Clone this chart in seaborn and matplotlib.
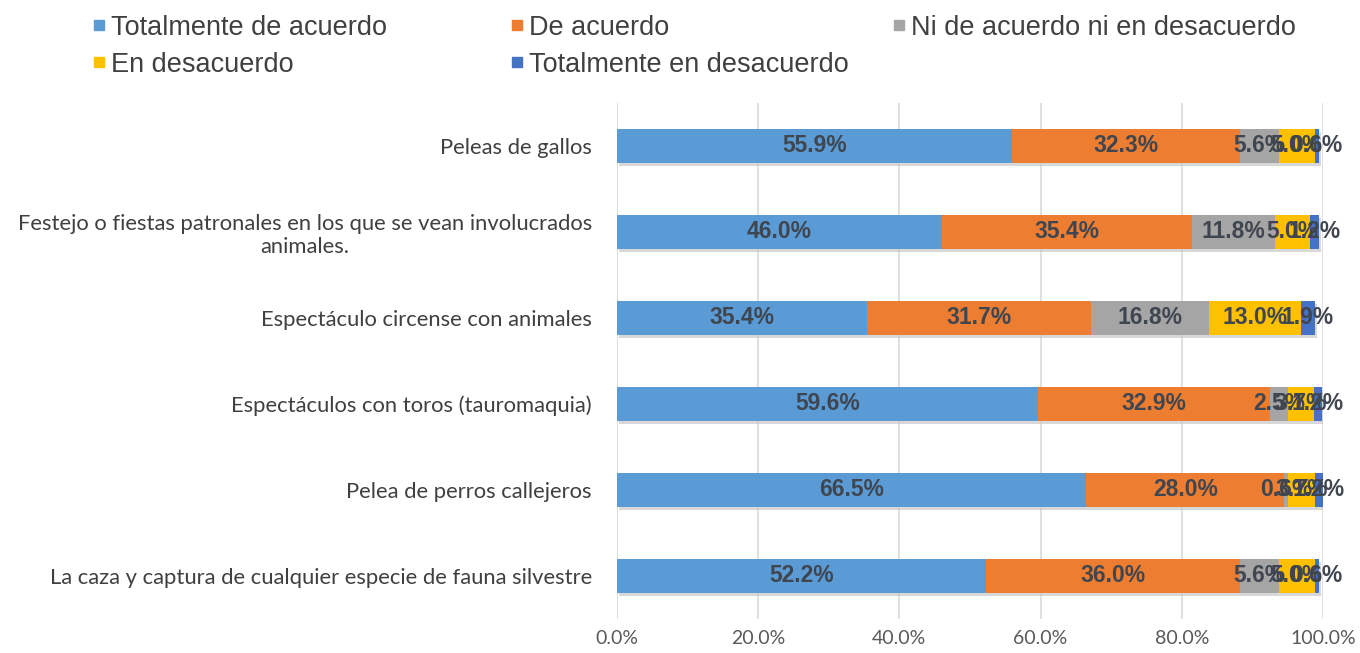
import matplotlib
matplotlib.use("Agg")
import matplotlib.pyplot as plt
import matplotlib.patheffects as pe
from matplotlib.lines import Line2D
import seaborn as sns
import pandas as pd
import numpy as np

categories = [
    "Peleas de gallos",
    "Festejo o fiestas patronales en los que se vean involucrados\nanimales.",
    "Espectáculo circense con animales",
    "Espectáculos con toros (tauromaquia)",
    "Pelea de perros callejeros",
    "La caza y captura de cualquier especie de fauna silvestre",
]
series_names = [
    "Totalmente de acuerdo",
    "De acuerdo",
    "Ni de acuerdo ni en desacuerdo",
    "En desacuerdo",
    "Totalmente en desacuerdo",
]
totalmente_de_acuerdo = [55.9, 46.0, 35.4, 59.6, 66.5, 52.2]
de_acuerdo = [32.3, 35.4, 31.7, 32.9, 28.0, 36.0]
ni_ni = [5.6, 11.8, 16.8, 2.5, 0.6, 5.6]
en_desacuerdo = [5.0, 5.0, 13.0, 3.7, 3.7, 5.0]
totalmente_en_desacuerdo = [0.6, 1.2, 1.9, 1.2, 1.2, 0.6]
colors = ["#5B9BD5", "#ED7D31", "#A5A5A5", "#FFC000", "#4472C4"]

values = [totalmente_de_acuerdo, de_acuerdo, ni_ni, en_desacuerdo,
          totalmente_en_desacuerdo]
df = pd.DataFrame({name: v for name, v in zip(series_names, values)})
df["categoria"] = categories
cum = df[series_names].cumsum(axis=1)
cum["categoria"] = categories

fig = plt.figure(figsize=(13.6, 6.53), dpi=100)
ax = fig.add_axes([617 / 1360, 1 - 619 / 653, 706 / 1360, (619 - 103) / 653])

shadow = [pe.SimplePatchShadow(offset=(1.5, -2), shadow_rgbFace="#c8c8c8", alpha=0.7),
          pe.Normal()]

# stacked bars: draw cumulative totals from the largest down
for i in range(len(series_names) - 1, -1, -1):
    sns.barplot(data=cum, x=series_names[i], y="categoria", color=colors[i],
                width=0.4, saturation=1, ax=ax, orient="h", zorder=3)
for p in ax.patches:
    p.set_edgecolor("none")
    if p.get_facecolor()[:3] == matplotlib.colors.to_rgb(colors[-1]):
        p.set_path_effects(shadow)

# segment labels
left = np.zeros(len(categories))
for i, name in enumerate(series_names):
    v = df[name].values
    for j in range(len(categories)):
        ax.text(left[j] + v[j] / 2, j, f"{v[j]:.1f}%", ha="center", va="center",
                fontsize=16.5, fontweight="bold", color="#3f4650",
                family="Liberation Sans", zorder=5)
    left += v

ax.set_xlim(0, 100)
ax.set_xticks(np.arange(0, 101, 20))
ax.set_xticklabels([f"{t:.1f}%" for t in np.arange(0, 101, 20)],
                   fontsize=14, color="#595959", family="Lato")
ax.tick_params(axis="x", length=0, pad=8)
ax.tick_params(axis="y", length=0, pad=18)
for lbl in ax.get_yticklabels():
    lbl.set_fontsize(15.8)
    lbl.set_color("#404040")
    lbl.set_family("Lato")
    lbl.set_multialignment("center")
ax.set_xlabel("")
ax.set_ylabel("")
ax.grid(axis="x", color="#d9d9d9", linewidth=1.2, zorder=0)
ax.set_axisbelow(True)
for s in ax.spines.values():
    s.set_visible(False)

def handle(c):
    return Line2D([], [], marker="s", linestyle="", color=c, markersize=6.5)

leg_cols = [
    ([0, 3], 0.050),
    ([1, 4], 0.357),
    ([2], 0.638),
]
for idx, x in leg_cols:
    leg = fig.legend([handle(colors[k]) for k in idx],
                     [series_names[k] for k in idx],
                     loc="upper left", bbox_to_anchor=(x, 1.015), frameon=False,
                     handlelength=0.5, handletextpad=0.2, labelspacing=0.42,
                     prop={"family": "Liberation Sans", "size": 19.5})
    for t in leg.get_texts():
        t.set_color("#404040")

fig.savefig("out.png", dpi=100, facecolor="white")
